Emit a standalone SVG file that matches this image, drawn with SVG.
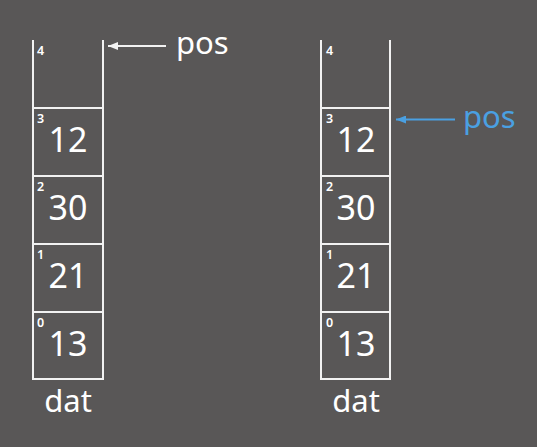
<svg xmlns="http://www.w3.org/2000/svg" width="537" height="447" viewBox="0 0 537 447">
<defs>
<style>
.ln{stroke:#f2f2f2;stroke-width:2;fill:none}
.num{font-family:"Noto Sans","Open Sans",sans-serif;font-size:34px;fill:#ffffff;text-anchor:middle}
.idx{font-family:"Noto Sans","Open Sans",sans-serif;font-size:12.5px;font-weight:600;fill:#ffffff}
.lbl{font-family:"Noto Sans","Open Sans",sans-serif;font-size:31px;fill:#ffffff}
.blue{fill:#4aa0e2}
</style>
<marker id="ahW" markerWidth="10" markerHeight="8" refX="10" refY="4" orient="auto" markerUnits="userSpaceOnUse">
<path d="M0,0 L10,4 L0,8 Z" fill="#f2f2f2"/>
</marker>
<marker id="ahB" markerWidth="10" markerHeight="8" refX="10" refY="4" orient="auto" markerUnits="userSpaceOnUse">
<path d="M0,0 L10,4 L0,8 Z" fill="#4aa0e2"/>
</marker>
</defs>
<rect width="537" height="447" fill="#595757"/>

<g id="stackLeft">
<path class="ln" d="M33,40 V379 H103 V40"/>
<path class="ln" d="M33,108 H103 M33,176 H103 M33,244 H103 M33,312 H103"/>
<text class="idx" x="37" y="55">4</text>
<text class="idx" x="37" y="123">3</text>
<text class="num" x="68" y="152">12</text>
<text class="idx" x="37" y="191">2</text>
<text class="num" x="68" y="220">30</text>
<text class="idx" x="37" y="259">1</text>
<text class="num" x="68" y="288">21</text>
<text class="idx" x="37" y="327">0</text>
<text class="num" x="68" y="356">13</text>
<text class="lbl" x="68" y="412" text-anchor="middle">dat</text>
</g>

<g id="stackRight">
<path class="ln" d="M321,40 V379 H390 V40"/>
<path class="ln" d="M321,108 H390 M321,176 H390 M321,244 H390 M321,312 H390"/>
<text class="idx" x="326" y="55">4</text>
<text class="idx" x="326" y="123">3</text>
<text class="num" x="356" y="152">12</text>
<text class="idx" x="326" y="191">2</text>
<text class="num" x="356" y="220">30</text>
<text class="idx" x="326" y="259">1</text>
<text class="num" x="356" y="288">21</text>
<text class="idx" x="326" y="327">0</text>
<text class="num" x="356" y="356">13</text>
<text class="lbl" x="356" y="412" text-anchor="middle">dat</text>
</g>

<g id="connectors">
<line x1="166" y1="46" x2="108" y2="46" stroke="#f2f2f2" stroke-width="2" marker-end="url(#ahW)"/>
<line x1="455" y1="119.5" x2="396" y2="119.5" stroke="#4aa0e2" stroke-width="2" marker-end="url(#ahB)"/>
</g>

<g id="posLeft">
<text class="lbl" x="176" y="54">pos</text>
</g>
<g id="posRight">
<text class="lbl blue" x="463" y="128">pos</text>
</g>
</svg>
